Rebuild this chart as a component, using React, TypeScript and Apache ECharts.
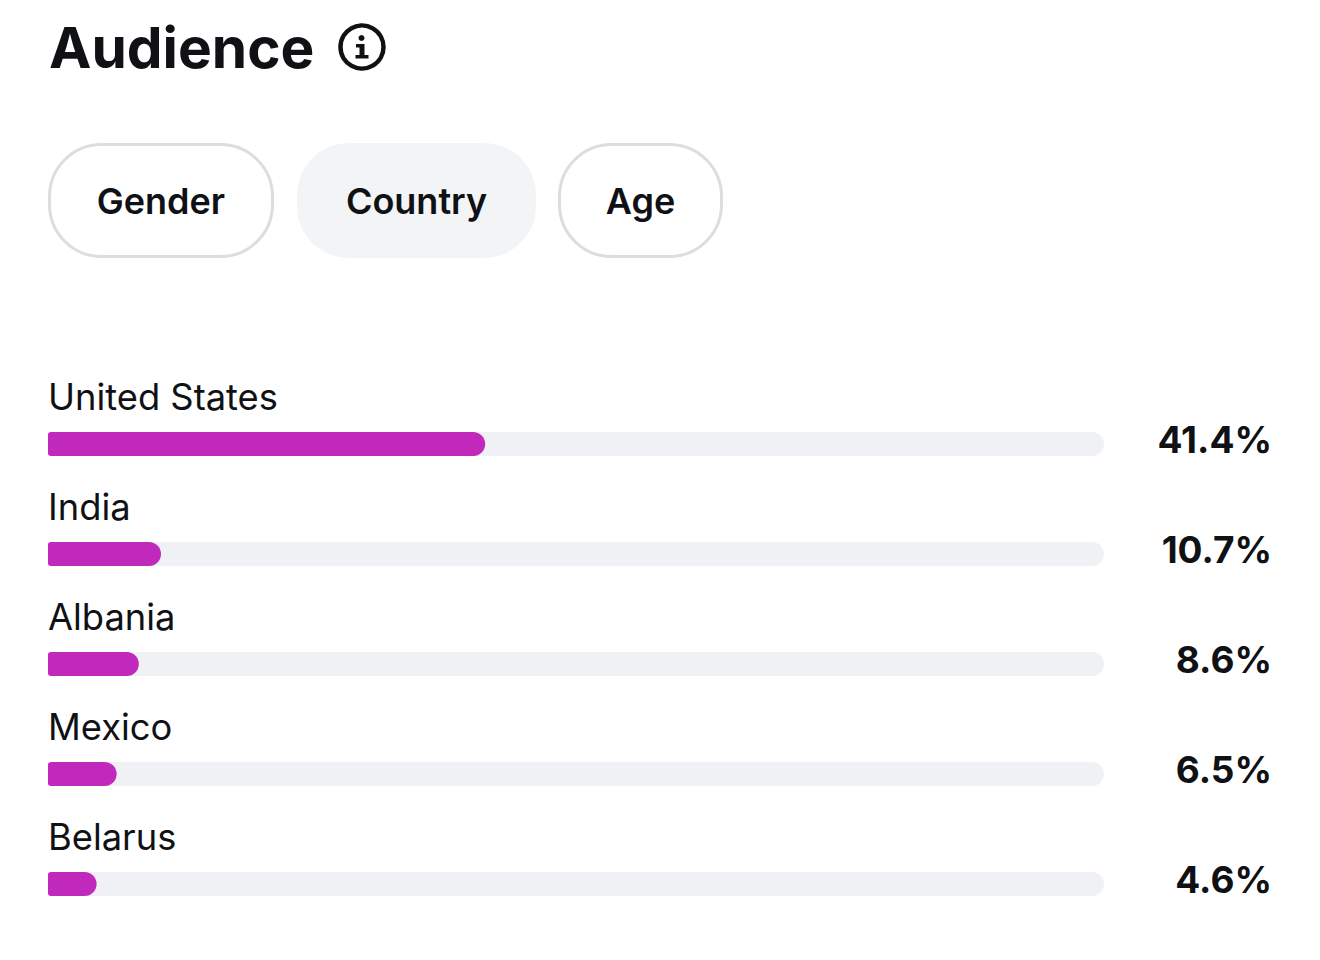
import React, { useEffect, useRef } from "react";
import * as echarts from "echarts";

const countries = ["United States", "India", "Albania", "Mexico", "Belarus"];
const shares = [41.4, 10.7, 8.6, 6.5, 4.6];
const shareLabels = ["41.4%", "10.7%", "8.6%", "6.5%", "4.6%"];
const tabs = ["Gender", "Country", "Age"];
const title = "Audience";

const INK = "#0f1115";
const FONT = "Inter";

export default function App() {
  const ref = useRef<HTMLDivElement>(null);
  useEffect(() => {
    document.body.style.margin = "0";
    const chart = echarts.init(ref.current!, undefined, { renderer: "svg" });
    const pills = [
      { x: 49.5, w: 223, active: false },
      { x: 297, w: 239, active: true },
      { x: 559.5, w: 162, active: false },
    ];
    chart.setOption({
      animation: false,
      backgroundColor: "#ffffff",
      grid: { left: 48, top: 389, width: 1056, height: 550, containLabel: false },
      xAxis: { type: "value", min: 0, max: 100, show: false },
      yAxis: [
        {
          type: "category",
          inverse: true,
          data: countries,
          axisLine: { show: false },
          axisTick: { show: false },
          axisLabel: {
            inside: true,
            align: "left",
            verticalAlign: "bottom",
            margin: 0,
            color: INK,
            fontFamily: FONT,
            fontSize: 36.3,
            fontWeight: 400,
            lineHeight: 95,
          },
        },
        {
          type: "category",
          inverse: true,
          position: "right",
          data: shareLabels,
          axisLine: { show: false },
          axisTick: { show: false },
          axisLabel: {
            align: "right",
            verticalAlign: "bottom",
            margin: 168,
            color: INK,
            fontFamily: FONT,
            fontSize: 37,
            fontWeight: 700,
            lineHeight: 9,
          },
        },
      ],
      series: [
        {
          type: "bar",
          data: shares,
          barWidth: 24,
          itemStyle: { color: "#c129bd", borderRadius: [3, 12, 12, 3] },
          showBackground: true,
          backgroundStyle: { color: "#f0f1f5", borderRadius: [3, 12, 12, 3] },
        },
      ],
      graphic: [
        {
          type: "text",
          x: 49,
          y: 47,
          style: { text: title, font: `700 56.8px ${FONT}`, fill: INK, textVerticalAlign: "middle" },
        },
        {
          type: "circle",
          shape: { cx: 362, cy: 47, r: 21.5 },
          style: { fill: "none", stroke: INK, lineWidth: 4.5 },
        },
        { type: "circle", shape: { cx: 361.5, cy: 38, r: 3 }, style: { fill: INK } },
        { type: "rect", shape: { x: 359.5, y: 44, width: 5, height: 14 }, style: { fill: INK } },
        { type: "rect", shape: { x: 356, y: 44, width: 6, height: 3.5 }, style: { fill: INK } },
        { type: "rect", shape: { x: 355.5, y: 55, width: 13, height: 3.5 }, style: { fill: INK } },
        ...pills.map((p) => ({
          type: "rect",
          shape: { x: p.x, y: p.active ? 143 : 144.5, width: p.w, height: p.active ? 115 : 112, r: 52 },
          style: p.active
            ? { fill: "#f3f4f6" }
            : { fill: "#ffffff", stroke: "#dddddd", lineWidth: 3 },
        })),
        ...pills.map((p, i) => ({
          type: "text",
          x: p.x + p.w / 2,
          y: 201,
          style: {
            text: tabs[i],
            font: `600 36px ${FONT}`,
            fill: INK,
            textAlign: "center",
            textVerticalAlign: "middle",
          },
        })),
      ],
    });
    return () => chart.dispose();
  }, []);
  return <div ref={ref} style={{ position: "absolute", left: 0, top: 0, width: 1320, height: 960 }} />;
}
